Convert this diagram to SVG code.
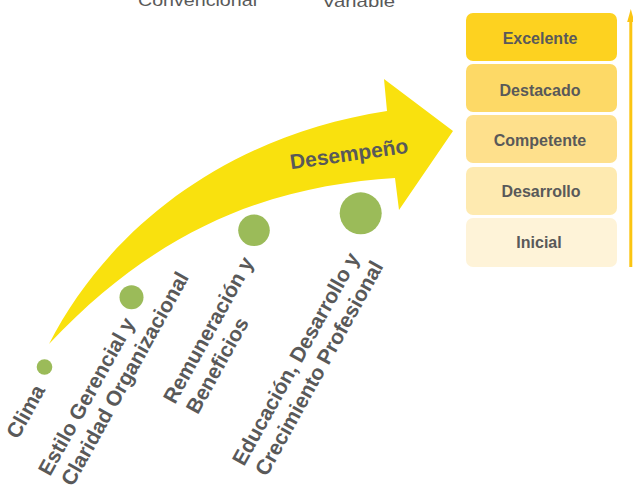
<svg xmlns="http://www.w3.org/2000/svg" width="633" height="487" viewBox="0 0 633 487">
  <style>
    .sans{font-family:"Liberation Sans",Arial,sans-serif;fill:#595959}
    .lbl{font-weight:bold;font-size:21px}
    .lvl-t{font-weight:bold;font-size:16px;text-anchor:middle}
    .top{font-size:17px}
    .dot{fill:#9BBB59}
    .lvl{stroke:none}
  </style>
  <rect width="633" height="487" fill="#FFFFFF"/>

  <!-- column headings, clipped by the top edge -->
  <text class="sans top" x="138" y="6" textLength="119" lengthAdjust="spacingAndGlyphs">Convencional</text>
  <text class="sans top" x="322" y="7" textLength="73" lengthAdjust="spacingAndGlyphs">Variable</text>

  <g id="connectors">
    <!-- curved performance arrow -->
    <path id="performance-arrow" fill="#F9E10E"
          d="M49,344 C110,225 230,135 387,111 L384,79 L453,131 L399,210 L395,178 C290,185 170,215 49,344 Z"/>
    <!-- vertical level scale arrow -->
    <line x1="630.8" y1="267" x2="630.8" y2="18" stroke="#FBC512" stroke-width="3"/>
    <polygon points="630.8,9 627.2,22 634.4,22" fill="#FBC512"/>
  </g>

  <g id="desempeno">
    <text class="sans lbl" x="0" y="0" text-anchor="middle" transform="translate(350,161) rotate(-8)">Desempeño</text>
  </g>

  <!-- factor nodes -->
  <g id="clima">
    <circle class="dot" cx="44.5" cy="367" r="7.8"/>
    <text class="sans lbl" transform="translate(18,440) rotate(-61)"><tspan x="0" y="0">Clima</tspan></text>
  </g>
  <g id="estilo-gerencial">
    <circle class="dot" cx="131.5" cy="297.3" r="12"/>
    <text class="sans lbl" transform="translate(50,477) rotate(-61)"><tspan x="0" y="0">Estilo Gerencial y</tspan><tspan x="2" y="25">Claridad Organizacional</tspan></text>
  </g>
  <g id="remuneracion">
    <circle class="dot" cx="254" cy="230.3" r="15.8"/>
    <text class="sans lbl" transform="translate(175,405) rotate(-61)"><tspan x="0" y="0">Remuneración y</tspan><tspan x="2" y="25">Beneficios</tspan></text>
  </g>
  <g id="educacion">
    <circle class="dot" cx="360.7" cy="213.3" r="21"/>
    <text class="sans lbl" transform="translate(244,467) rotate(-61)"><tspan x="0" y="0">Educación, Desarrollo y</tspan><tspan x="2" y="25">Crecimiento Profesional</tspan></text>
  </g>

  <!-- performance levels -->
  <g id="excelente">
    <rect class="lvl" x="466" y="13" width="151" height="48" rx="7" fill="#FDD220"/>
    <text class="sans lvl-t" x="540" y="44">Excelente</text>
  </g>
  <g id="destacado">
    <rect class="lvl" x="466" y="64" width="151" height="48" rx="7" fill="#FDD966"/>
    <text class="sans lvl-t" x="540" y="96">Destacado</text>
  </g>
  <g id="competente">
    <rect class="lvl" x="466" y="115" width="151" height="48" rx="7" fill="#FEE08C"/>
    <text class="sans lvl-t" x="540" y="146">Competente</text>
  </g>
  <g id="desarrollo">
    <rect class="lvl" x="466" y="167" width="151" height="48" rx="7" fill="#FEEAB0"/>
    <text class="sans lvl-t" x="541" y="197">Desarrollo</text>
  </g>
  <g id="inicial">
    <rect class="lvl" x="466" y="218" width="151" height="49" rx="7" fill="#FEF3D8"/>
    <text class="sans lvl-t" x="539" y="248">Inicial</text>
  </g>
</svg>
